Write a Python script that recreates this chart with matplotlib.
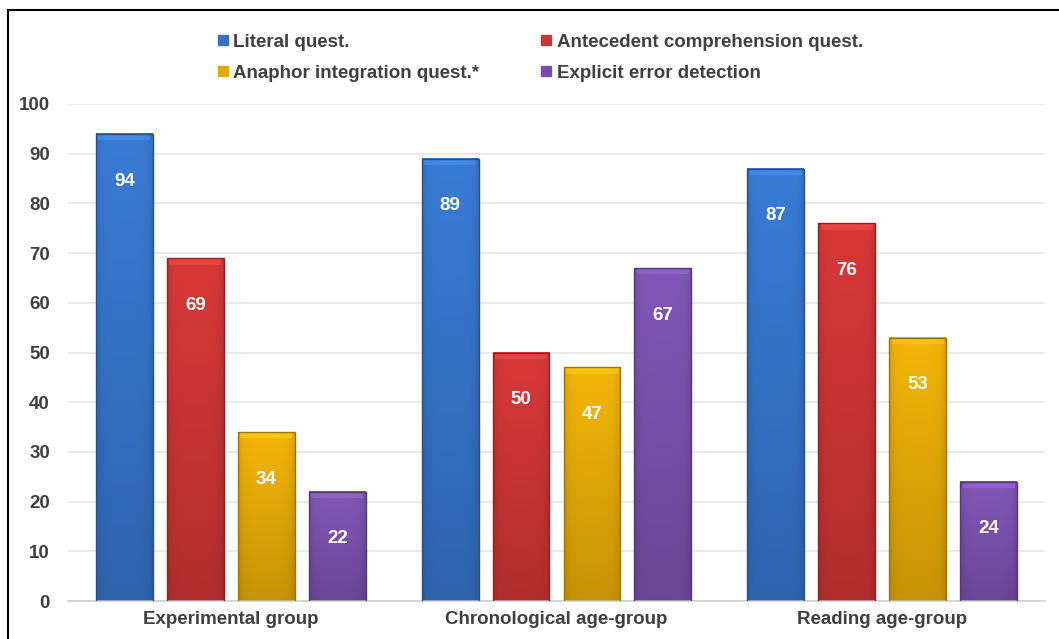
import numpy as np
import matplotlib.pyplot as plt
from matplotlib.colors import to_rgb
from matplotlib.patches import Rectangle
from matplotlib.lines import Line2D

groups = ["Experimental group", "Chronological age-group", "Reading age-group"]
series = ["Literal quest.", "Antecedent comprehension quest.",
          "Anaphor integration quest.*", "Explicit error detection"]
literal = [94, 89, 87]
antecedent = [69, 50, 76]
anaphor = [34, 47, 53]
explicit = [22, 67, 24]
values = [literal, antecedent, anaphor, explicit]
colors = ["#3572c6", "#c93434", "#e2a808", "#7850aa"]

text_color = "#404040"
plt.rcParams['font.family'] = ['Liberation Sans', 'DejaVu Sans']

fig = plt.figure(figsize=(10.59, 6.39), dpi=100)
ax = fig.add_axes([68 / 1059, 1 - 601 / 639, 977 / 1059, 497 / 639])

x = np.arange(len(groups))
width = 0.175
offsets = [-0.327, -0.109, 0.109, 0.327]


def shaded(color, ny=120, nx=40):
    # vertical fade (lighter top) with slightly darker side edges
    c = np.array(to_rgb(color))
    fy = np.linspace(1.08, 0.88, ny)[:, None]
    xx = np.linspace(-1, 1, nx)[None, :]
    fx = 1.0 - 0.10 * np.abs(xx) ** 6
    img = c[None, None, :] * (fy * fx)[:, :, None]
    return np.clip(img, 0, 1)


for vals, off, col in zip(values, offsets, colors):
    img = shaded(col)
    dark = np.clip(np.array(to_rgb(col)) * 0.7, 0, 1)
    light = np.clip(np.array(to_rgb(col)) * 1.2 + 0.08, 0, 1)
    for xi, v in zip(x, vals):
        x0 = xi + off - width / 2
        ax.imshow(img, extent=[x0, x0 + width, 0, v], aspect='auto',
                  interpolation='bilinear', zorder=2)
        ax.add_patch(Rectangle((x0 + 0.008, v - 1.3), width - 0.016, 1.3,
                               facecolor=light, edgecolor='none', alpha=0.45, zorder=3))
        ax.add_patch(Rectangle((x0, 0), width, v, facecolor='none',
                               edgecolor=dark, linewidth=1.0, zorder=4))
        ax.text(xi + off, v - 9.5, str(v), ha='center', va='center',
                color='white', fontsize=13.5, fontweight='bold', zorder=5)

ax.set_xlim(-0.5, 2.5)
ax.set_ylim(0, 100)
ax.set_yticks(np.arange(0, 101, 10))
ax.yaxis.grid(True, color="#e6e6e6", linewidth=1.2, zorder=0)
ax.set_axisbelow(True)
ax.set_xticks(x)
ax.set_xticklabels(groups)
ax.tick_params(axis='both', length=0, labelsize=13.5, colors=text_color)
ax.tick_params(axis='y', pad=13)
ax.tick_params(axis='x', pad=7)
for lab in ax.get_xticklabels() + ax.get_yticklabels():
    lab.set_fontweight('bold')
for s in ["top", "right", "left"]:
    ax.spines[s].set_visible(False)
ax.spines["bottom"].set_color("#d0d0d0")
ax.spines["bottom"].set_linewidth(1.2)

# legend: two columns, filled column-wise
order = [0, 2, 1, 3]
handles = [Line2D([], [], marker='s', linestyle='none', markersize=7,
                  markerfacecolor=colors[i], markeredgecolor=colors[i])
           for i in order]
leg = fig.legend(handles, [series[i] for i in order], ncol=2,
                 loc='upper left', bbox_to_anchor=(200 / 1059, 1 - 17 / 639),
                 frameon=False, handlelength=0.6, handletextpad=0.25,
                 columnspacing=3.3, labelspacing=0.72,
                 prop={'size': 13.5, 'weight': 'bold'})
for t in leg.get_texts():
    t.set_color(text_color)

# frame lines along top and left edges
fig.add_artist(Line2D([8 / 1059, 1], [1 - 10 / 639, 1 - 10 / 639],
                      transform=fig.transFigure, color='black', linewidth=1.5))
fig.add_artist(Line2D([8 / 1059, 8 / 1059], [0, 1 - 10 / 639],
                      transform=fig.transFigure, color='black', linewidth=1.5))

fig.savefig("out.png", dpi=100)
